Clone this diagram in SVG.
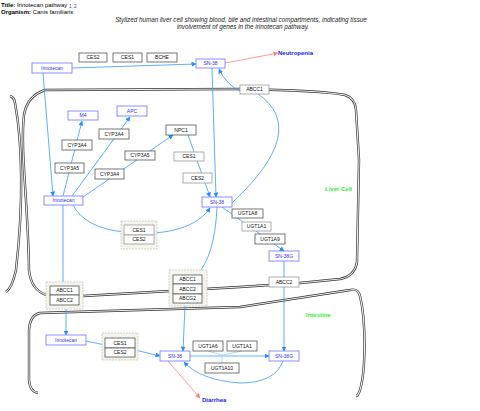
<svg xmlns="http://www.w3.org/2000/svg" width="480" height="411" viewBox="0 0 480 411">
<defs>
<marker id="ab" viewBox="0 0 10 10" refX="9" refY="5" markerWidth="5" markerHeight="5" markerUnits="userSpaceOnUse" orient="auto"><path d="M0,0 L10,5 L0,10 Z" fill="#1e90ff"/></marker>
<marker id="ar" viewBox="0 0 10 10" refX="9" refY="5" markerWidth="5" markerHeight="5" markerUnits="userSpaceOnUse" orient="auto"><path d="M0,0 L10,5 L0,10 Z" fill="#ff7f7f"/></marker>
</defs>
<style>
text{font-family:"Liberation Sans",Arial,sans-serif}
.mo{fill:none;stroke:#333;stroke-width:2.4}
.mi{fill:none;stroke:#eee;stroke-width:1.1}
.c{fill:none;stroke:#3399ff;stroke-width:0.8}
.ca{fill:none;stroke:#3399ff;stroke-width:0.8;marker-end:url(#ab)}
.cr{fill:none;stroke:#ff8080;stroke-width:0.8;marker-end:url(#ar)}
.g rect{fill:#fff;stroke:#555;stroke-width:0.8}
.gl rect{fill:#fff;stroke:#999;stroke-width:0.8}
.m rect{fill:#fff;stroke:#7f7fff;stroke-width:0.9}
.g text,.gl text{font-size:5px;fill:#111;text-anchor:middle}
.m text{font-size:5px;fill:#3333dd;text-anchor:middle}
rect.grp{fill:#f4f4ec;stroke:#c8c8c0;stroke-width:0.8;stroke-dasharray:2,1}
.lbl{font-weight:bold;font-size:6px}
</style>
<g id="title">
<text x="1" y="7" font-size="6"><tspan font-weight="bold">Title:</tspan> Irinotecan pathway <tspan fill="#3333cc" font-size="4.5" dy="1">1, 2</tspan></text>
<text x="1" y="14" font-size="6"><tspan font-weight="bold">Organism:</tspan> Canis familiaris</text>
<text x="241" y="22" font-size="6.3" font-style="italic" text-anchor="middle" fill="#222">Stylized human liver cell showing blood, bile and intestinal compartments, indicating tissue</text>
<text x="243" y="29" font-size="6.3" font-style="italic" text-anchor="middle" fill="#222">involvement of genes in the irinotecan pathway.</text>
</g>
<g id="membranes">
<path class="mo" d="M45,90 L240,89 C300,90 330,92 345,95 Q355,98 356,110 L359,160 L357,262 Q355,276 340,279 L300,283 L240,287 L83,296 L50,296 Q31,292 29,270 C28,200 20,150 24,115 Q27,96 45,90"/>
<path class="mi" d="M45,90 L240,89 C300,90 330,92 345,95 Q355,98 356,110 L359,160 L357,262 Q355,276 340,279 L300,283 L240,287 L83,296 L50,296 Q31,292 29,270 C28,200 20,150 24,115 Q27,96 45,90"/>
<path class="mo" d="M10,96 Q14,97 15,103 C22,140 24,200 16,270 Q12,288 6,292"/>
<path class="mi" d="M10,96 Q14,97 15,103 C22,140 24,200 16,270 Q12,288 6,292"/>
<path class="mo" d="M38,393 Q30,392 29,380 L29,330 Q30,315 40,313 L240,307 L350,290 Q358,288 360,296 C366,320 366,370 360,390 Q358,396 356,396"/>
<path class="mi" d="M38,393 Q30,392 29,380 L29,330 Q30,315 40,313 L240,307 L350,290 Q358,288 360,296 C366,320 366,370 360,390 Q358,396 356,396"/>
<text x="325" y="191" class="lbl" fill="#33ee33">Liver Cell</text>
<text x="306" y="317" class="lbl" fill="#33ee33">Intestine</text>
</g>
<g id="connectors">
<path class="ca" d="M72,68 L196,64"/>
<path class="cr" d="M225,63 L278,53"/>
<path class="ca" d="M43,73 L53,196"/>
<path class="ca" d="M212,68 L216,197"/>
<path class="ca" d="M243,93 Q226,85 219,69"/>
<path class="c" d="M258,94 Q310,130 232,203"/>
<path class="ca" d="M63,196 L82,121"/>
<path class="ca" d="M72,196 L130,117"/>
<path class="ca" d="M83,197 L173,135"/>
<path class="ca" d="M188,135 L210,197"/>
<path class="c" d="M73,205 Q85,228 124,232"/>
<path class="ca" d="M154,233 Q195,230 210,208"/>
<path class="c" d="M63,205 L63,282"/>
<path class="ca" d="M66,309 L66,335"/>
<path class="c" d="M217,207 Q215,255 197,275"/>
<path class="ca" d="M185,306 L183,351"/>
<path class="ca" d="M222,207 L284,251"/>
<path class="c" d="M284,261 L284,277"/>
<path class="ca" d="M284,287 L284,351"/>
<path class="c" d="M86,341 L105,345"/>
<path class="ca" d="M135,350 L160,356"/>
<path class="ca" d="M190,356 L269,356" style="stroke:#99ccff;stroke-width:1.4"/>
<path class="c" d="M208,351 L222,355 L242,351 M222,355 L222,363" style="stroke:#99ccff"/>
<path class="ca" d="M283,361 Q275,383 240,383 Q200,380 184,362"/>
<path class="cr" d="M168,361 L200,398"/>
</g>
<g id="n-ces2-top" class="g"><rect x="79" y="53" width="28" height="9"/><text x="93" y="59.3">CES2</text></g>
<g id="n-ces1-top" class="g"><rect x="113" y="53" width="29" height="9"/><text x="127.5" y="59.3">CES1</text></g>
<g id="n-bche" class="g"><rect x="147" y="53" width="30" height="9"/><text x="162" y="59.3">BCHE</text></g>
<g id="n-irino-top" class="m"><rect x="32" y="63" width="40" height="10"/><text x="52" y="69.8">Irinotecan</text></g>
<g id="n-sn38-top" class="m"><rect x="196" y="59" width="29" height="9"/><text x="210.5" y="65.3">SN-38</text></g>
<g id="n-neutropenia"><text x="278" y="55" class="lbl" fill="#2222ee" font-size="5.5">Neutropenia</text></g>
<g id="n-abcc1-top" class="gl"><rect x="240" y="85" width="29" height="9"/><text x="254.5" y="91.3">ABCC1</text></g>
<g id="n-m4" class="m"><rect x="68" y="111" width="30" height="9"/><text x="83" y="117.3">M4</text></g>
<g id="n-apc" class="m"><rect x="117" y="106" width="30" height="10"/><text x="132" y="112.8">APC</text></g>
<g id="n-cyp3a4-a" class="g"><rect x="99" y="129" width="30" height="10"/><text x="114" y="135.8">CYP3A4</text></g>
<g id="n-npc1" class="g"><rect x="166" y="125" width="30" height="10"/><text x="181" y="131.8">NPC1</text></g>
<g id="n-cyp3a4-b" class="g"><rect x="62" y="140" width="30" height="10"/><text x="77" y="146.8">CYP3A4</text></g>
<g id="n-cyp3a5-c" class="g"><rect x="125" y="151" width="30" height="9"/><text x="140" y="157.3">CYP3A5</text></g>
<g id="n-ces1-liver" class="gl"><rect x="174" y="152" width="30" height="9"/><text x="189" y="158.3">CES1</text></g>
<g id="n-cyp3a5-d" class="g"><rect x="55" y="163" width="29" height="10"/><text x="69.5" y="169.8">CYP3A5</text></g>
<g id="n-cyp3a4-e" class="g"><rect x="95" y="169" width="29" height="10"/><text x="109.5" y="175.8">CYP3A4</text></g>
<g id="n-ces2-liver" class="gl"><rect x="183" y="173" width="29" height="10"/><text x="197.5" y="179.8">CES2</text></g>
<g id="n-irino-liver" class="m"><rect x="44" y="196" width="39" height="9"/><text x="63.5" y="202.3">Irinotecan</text></g>
<g id="n-sn38-liver" class="m"><rect x="202" y="197" width="30" height="10"/><text x="217" y="203.8">SN-38</text></g>
<g id="n-grp-ces-liver" class="gl"><rect class="grp" x="121" y="221" width="36" height="28"/><rect x="124" y="225" width="30" height="10"/><text x="139" y="231.8">CES1</text><rect x="124" y="235" width="30" height="9"/><text x="139" y="241.3">CES2</text></g>
<g id="n-ugt1a8" class="g"><rect x="232" y="209" width="31" height="9"/><text x="247.5" y="215.3">UGT1A8</text></g>
<g id="n-ugt1a1-liver" class="gl"><rect x="242" y="222" width="29" height="9"/><text x="256.5" y="228.3">UGT1A1</text></g>
<g id="n-ugt1a9" class="g"><rect x="255" y="234" width="30" height="10"/><text x="270" y="240.8">UGT1A9</text></g>
<g id="n-sn38g-liver" class="m"><rect x="269" y="251" width="30" height="10"/><text x="284" y="257.8">SN-38G</text></g>
<g id="n-abcc2-right" class="gl"><rect x="269" y="277" width="30" height="10"/><text x="284" y="283.8">ABCC2</text></g>
<g id="n-grp-abc-left" class="g"><rect class="grp" x="46" y="282" width="37" height="27"/><rect x="50" y="286" width="29" height="9"/><text x="64.5" y="292.3">ABCC1</text><rect x="50" y="295" width="29" height="10"/><text x="64.5" y="301.8">ABCC2</text></g>
<g id="n-grp-abc-mid" class="g"><rect class="grp" x="169" y="270" width="38" height="36"/><rect x="173" y="275" width="29" height="9"/><text x="187.5" y="281.3">ABCC1</text><rect x="173" y="284" width="29" height="10"/><text x="187.5" y="290.8">ABCC2</text><rect x="173" y="294" width="29" height="9"/><text x="187.5" y="300.3">ABCG2</text></g>
<g id="n-irino-int" class="m"><rect x="46" y="335" width="40" height="10"/><text x="66" y="341.8">Irinotecan</text></g>
<g id="n-grp-ces-int" class="g"><rect class="grp" x="102" y="333" width="36" height="27"/><rect x="105" y="338" width="30" height="10"/><text x="120" y="344.8">CES1</text><rect x="105" y="348" width="30" height="9"/><text x="120" y="354.3">CES2</text></g>
<g id="n-sn38-int" class="m"><rect x="160" y="351" width="30" height="10"/><text x="175" y="357.8">SN-38</text></g>
<g id="n-ugt1a6" class="g"><rect x="193" y="341" width="30" height="10"/><text x="208" y="347.8">UGT1A6</text></g>
<g id="n-ugt1a1-int" class="g"><rect x="227" y="341" width="30" height="10"/><text x="242" y="347.8">UGT1A1</text></g>
<g id="n-ugt1a10" class="g"><rect x="205" y="363" width="34" height="10"/><text x="222" y="369.8">UGT1A10</text></g>
<g id="n-sn38g-int" class="m"><rect x="269" y="351" width="30" height="10"/><text x="284" y="357.8">SN-38G</text></g>
<g id="n-diarrhea"><text x="202" y="402" class="lbl" fill="#2222ee" font-size="5.5">Diarrhea</text></g>
</svg>
